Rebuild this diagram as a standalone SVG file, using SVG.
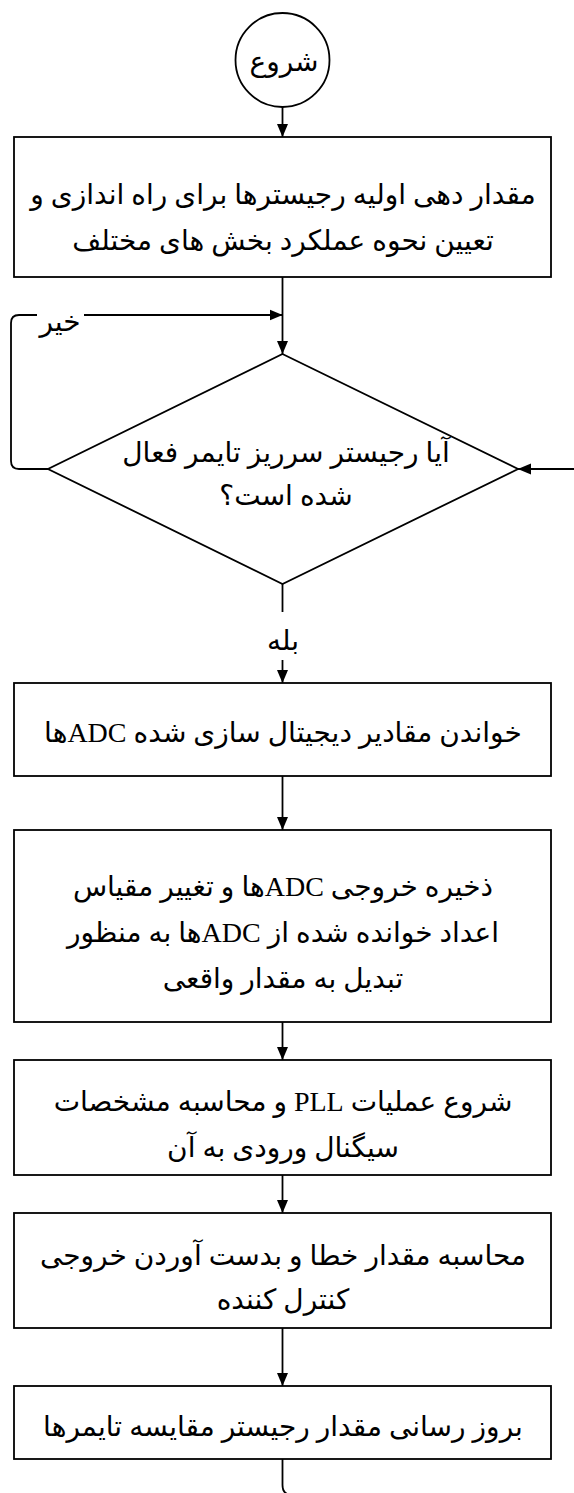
<svg xmlns="http://www.w3.org/2000/svg" width="574" height="1493" viewBox="0 0 574 1493">
<style>
.shape{fill:#fff;stroke:#000;stroke-width:1.8}
.conn{fill:none;stroke:#000;stroke-width:1.8}
.t{font-family:"Liberation Serif","DejaVu Sans",serif;font-size:28px;fill:#000;text-anchor:middle;direction:rtl}
.lat{font-size:31px}
.bg{fill:#fff;stroke:none}
</style>
<defs>
<marker id="arr" markerWidth="12" markerHeight="13" refX="13" refY="6" orient="auto" markerUnits="userSpaceOnUse"><path d="M0,0.5 L13,6 L0,11.5 z" fill="#000"/></marker>
</defs>
<g id="connectors">
<path class="conn" d="M282.5,107 V137" marker-end="url(#arr)"/>
<path class="conn" d="M282.5,277 V354" marker-end="url(#arr)"/>
<path class="conn" d="M48,469 H19 Q11,469 11,461 V323 Q11,315 19,315 H282.5" marker-end="url(#arr)"/>
<path class="conn" d="M282.5,584 V683" marker-end="url(#arr)"/>
<path class="conn" d="M282.5,776 V830" marker-end="url(#arr)"/>
<path class="conn" d="M282.5,1022 V1060" marker-end="url(#arr)"/>
<path class="conn" d="M282.5,1175 V1213" marker-end="url(#arr)"/>
<path class="conn" d="M282.5,1328 V1386" marker-end="url(#arr)"/>
<path class="conn" d="M282.5,1459 V1485 Q282.5,1495 292.5,1495 H600 V469 H518" marker-end="url(#arr)"/>
<g id="label-no"><rect class="bg" x="37" y="306" width="47" height="34"/><text class="t" x="60" y="331">خیر</text></g>
<g id="label-yes"><rect class="bg" x="262" y="612" width="42" height="48"/><text class="t" x="283" y="650">بله</text></g>
</g>
<g id="start"><circle class="shape" cx="282.5" cy="60" r="47"/><text class="t" x="284" y="71">شروع</text></g>
<g id="init"><rect class="shape" x="14" y="137" width="537" height="140"/><text class="t" x="283" y="204">مقدار دهی اولیه رجیسترها برای راه اندازی و</text><text class="t" x="283" y="250">تعیین نحوه عملکرد بخش های مختلف</text></g>
<g id="decision"><polygon class="shape" points="282.5,354 518,469 282.5,584 48,469"/><text class="t" x="286" y="462">آیا رجیستر سرریز تایمر فعال</text><text class="t" x="286" y="505">شده است؟</text></g>
<g id="read-adc"><rect class="shape" x="14" y="683" width="537" height="93"/><text class="t" x="283" y="742">خواندن مقادیر دیجیتال سازی شده ADCها</text></g>
<g id="store-adc"><rect class="shape" x="14" y="830" width="537" height="192"/><text class="t" x="283" y="896">ذخیره خروجی ADCها و تغییر مقیاس</text><text class="t" x="283" y="942">اعداد خوانده شده از ADCها به منظور</text><text class="t" x="283" y="988">تبدیل به مقدار واقعی</text></g>
<g id="pll"><rect class="shape" x="14" y="1060" width="537" height="115"/><text class="t" x="283" y="1111">شروع عملیات PLL و محاسبه مشخصات</text><text class="t" x="283" y="1157">سیگنال ورودی به آن</text></g>
<g id="error"><rect class="shape" x="14" y="1213" width="537" height="115"/><text class="t" x="283" y="1265">محاسبه مقدار خطا و بدست آوردن خروجی</text><text class="t" x="283" y="1309">کنترل کننده</text></g>
<g id="update"><rect class="shape" x="14" y="1386" width="537" height="73"/><text class="t" x="283" y="1436">بروز رسانی مقدار رجیستر مقایسه تایمرها</text></g>
</svg>
